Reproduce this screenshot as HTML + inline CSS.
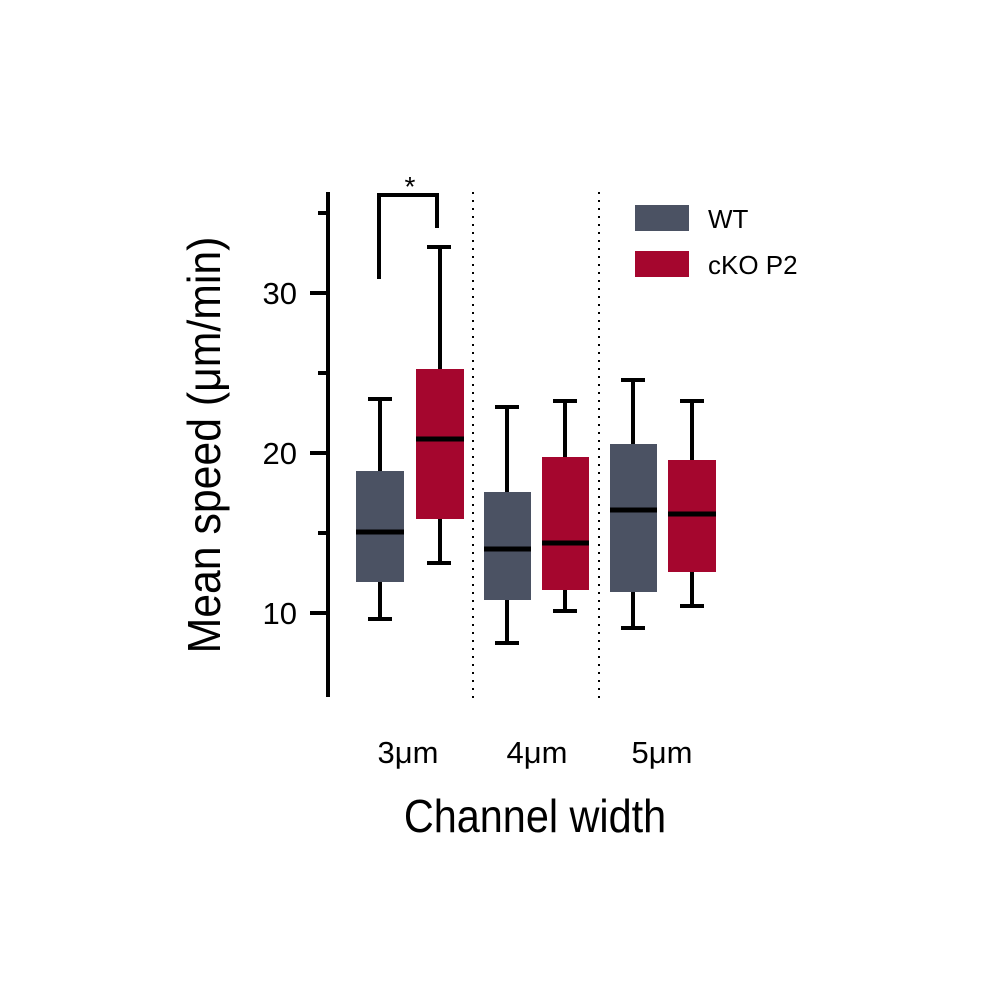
<!DOCTYPE html>
<html><head><meta charset="utf-8"><style>body{margin:0;background:#fff}</style></head><body>
<svg width="1000" height="1000" xmlns="http://www.w3.org/2000/svg" font-family="Liberation Sans, sans-serif">
<rect width="1000" height="1000" fill="#fff"/>
<g stroke="#000" stroke-width="4">
<line x1="328" y1="192" x2="328" y2="697"/>
<line x1="310" y1="293" x2="328" y2="293"/>
<line x1="310" y1="453" x2="328" y2="453"/>
<line x1="310" y1="613" x2="328" y2="613"/>
<line x1="318" y1="213" x2="328" y2="213"/>
<line x1="318" y1="373" x2="328" y2="373"/>
<line x1="318" y1="533" x2="328" y2="533"/>
<polyline fill="none" points="379,279 379,195 437,195 437,228"/>
</g>
<g stroke="#000" stroke-width="2" stroke-dasharray="2,6">
<line x1="473" y1="192" x2="473" y2="698"/>
<line x1="599" y1="192" x2="599" y2="698"/>
</g>
<text x="410" y="196" font-size="28" text-anchor="middle">*</text>
<g stroke="#000" stroke-width="4">
<line x1="380" y1="399" x2="380" y2="619"/><line x1="368" y1="399" x2="392" y2="399"/><line x1="368" y1="619" x2="392" y2="619"/>
<line x1="440" y1="247" x2="440" y2="563"/><line x1="427" y1="247" x2="451" y2="247"/><line x1="427" y1="563" x2="451" y2="563"/>
<line x1="507" y1="407" x2="507" y2="643"/><line x1="495" y1="407" x2="519" y2="407"/><line x1="495" y1="643" x2="519" y2="643"/>
<line x1="565" y1="401" x2="565" y2="611"/><line x1="553" y1="401" x2="577" y2="401"/><line x1="553" y1="611" x2="577" y2="611"/>
<line x1="633" y1="380" x2="633" y2="628"/><line x1="621" y1="380" x2="645" y2="380"/><line x1="621" y1="628" x2="645" y2="628"/>
<line x1="692" y1="401" x2="692" y2="606"/><line x1="680" y1="401" x2="704" y2="401"/><line x1="680" y1="606" x2="704" y2="606"/>
</g>
<rect x="356" y="471" width="48" height="111" fill="#4b5263"/>
<rect x="416" y="369" width="48" height="150" fill="#a5062e"/>
<rect x="484" y="492" width="47" height="108" fill="#4b5263"/>
<rect x="542" y="457" width="47" height="133" fill="#a5062e"/>
<rect x="610" y="444" width="47" height="148" fill="#4b5263"/>
<rect x="668" y="460" width="48" height="112" fill="#a5062e"/>
<g stroke="#000" stroke-width="5">
<line x1="356" y1="532" x2="404" y2="532"/>
<line x1="416" y1="439" x2="464" y2="439"/>
<line x1="484" y1="549" x2="531" y2="549"/>
<line x1="542" y1="543" x2="589" y2="543"/>
<line x1="610" y1="510" x2="657" y2="510"/>
<line x1="668" y1="514" x2="716" y2="514"/>
</g>
<rect x="635" y="205" width="54" height="26" fill="#4b5263"/>
<rect x="635" y="251" width="54" height="26" fill="#a5062e"/>
<text x="708" y="228" font-size="26">WT</text>
<text x="708" y="274" font-size="26">cKO P2</text>
<g font-size="31" text-anchor="end">
<text x="297" y="304">30</text><text x="297" y="464">20</text><text x="297" y="624">10</text>
</g>
<g font-size="31" text-anchor="middle">
<text x="408" y="763">3μm</text><text x="537" y="763">4μm</text><text x="662" y="763">5μm</text>
</g>
<text transform="translate(535,832) scale(0.9,1)" font-size="46" text-anchor="middle">Channel width</text>
<text transform="translate(220,445) rotate(-90) scale(0.93,1)" font-size="46" text-anchor="middle">Mean speed (μm/min)</text>
</svg>
</body></html>
